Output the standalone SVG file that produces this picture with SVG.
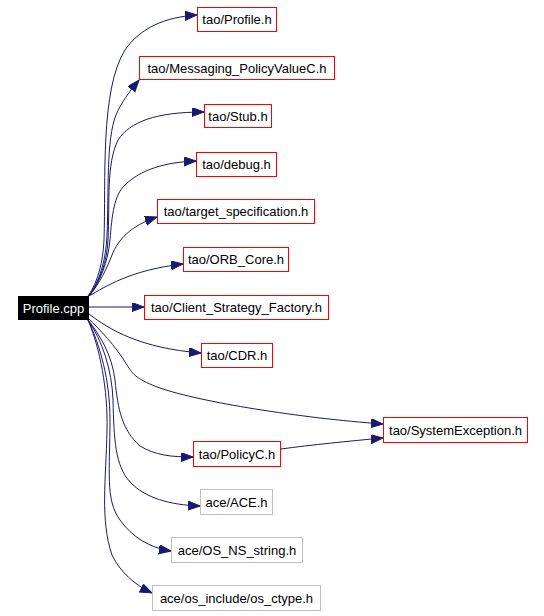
<svg xmlns="http://www.w3.org/2000/svg" width="544" height="616" viewBox="0 0 544 616">
<style>
.n rect{fill:#fff;stroke:#ff0000;stroke-width:1}
.n.g rect{stroke:#bfbfbf}
.n.s rect{fill:#000;stroke:#000}
text{font-family:"Liberation Sans",Arial,sans-serif;font-size:13px;fill:#000;text-anchor:middle}
.n.s text{fill:#fff}
#edges path{fill:none;stroke:#191970;stroke-width:1;marker-end:url(#ah)}
</style>
<defs>
<marker id="ah" markerUnits="userSpaceOnUse" markerWidth="13" markerHeight="10" refX="12" refY="4.5" orient="auto" viewBox="0 0 13 10">
<path d="M0,0 L12,4.5 L0,9 z" fill="#191970" stroke="#191970"/>
</marker>
</defs>
<rect width="544" height="616" fill="#fff"/>
<g id="edges">
<path d="M88,296 C98,282 103,262 104,240 C106,180 100,90 125,50 C140,28 165,17 197,15"/>
<path d="M89,296 C100,280 106,260 107,235 C109,190 106,140 116,115 C121,103 129,92 139,80"/>
<path d="M89,296 C100,281 107,262 108,240 C110,200 106,165 118,140 C130,122 155,112 204,112"/>
<path d="M89,296 C100,282 108,262 110,240 C112,215 114,195 125,185 C140,170 165,162 196,161"/>
<path d="M89,296 C100,283 107,268 112,255 C118,240 130,226 157,217"/>
<path d="M89,296 C105,287 130,270 183,264"/>
<path d="M89,307 L144,307"/>
<path d="M89,314 C110,330 140,348 201,353"/>
<path d="M88,318 C100,330 115,345 127,365 C133,375 138,380 160,388 C200,402 300,418 383,424"/>
<path d="M88,320 C100,335 112,355 115,380 C118,410 122,430 140,446 C155,455 170,457 193,457"/>
<path d="M281,449 C310,445 350,441 383,438"/>
<path d="M88,320 C102,340 112,370 113,400 C114,440 115,465 130,482 C145,498 170,505 200,506"/>
<path d="M88,320 C100,345 110,380 110,420 C110,470 105,500 120,520 C132,537 150,548 171,551"/>
<path d="M88,320 C100,348 108,390 107,430 C106,480 100,520 112,555 C120,572 135,585 152,593"/>
</g>
<g id="n_profile_cpp" class="n s"><rect x="18.5" y="296.5" width="70" height="23"/><text x="53.5" y="312.5">Profile.cpp</text></g>
<g id="n_profile_h" class="n"><rect x="197.5" y="7.5" width="79" height="24"/><text x="237" y="24">tao/Profile.h</text></g>
<g id="n_messaging" class="n"><rect x="139.5" y="56.5" width="195" height="23"/><text x="237" y="72.5">tao/Messaging_PolicyValueC.h</text></g>
<g id="n_stub" class="n"><rect x="204.5" y="104.5" width="67" height="23"/><text x="238" y="120.5">tao/Stub.h</text></g>
<g id="n_debug" class="n"><rect x="196.5" y="152.5" width="80" height="24"/><text x="236.5" y="169">tao/debug.h</text></g>
<g id="n_target" class="n"><rect x="157.5" y="199.5" width="157" height="24"/><text x="236" y="216">tao/target_specification.h</text></g>
<g id="n_orb" class="n"><rect x="183.5" y="247.5" width="105" height="24"/><text x="236" y="264">tao/ORB_Core.h</text></g>
<g id="n_client" class="n"><rect x="144.5" y="295.5" width="184" height="24"/><text x="236.5" y="312">tao/Client_Strategy_Factory.h</text></g>
<g id="n_cdr" class="n"><rect x="201.5" y="343.5" width="71" height="24"/><text x="237" y="360">tao/CDR.h</text></g>
<g id="n_sysexc" class="n"><rect x="383.5" y="417.5" width="144" height="25"/><text x="455.5" y="434.5">tao/SystemException.h</text></g>
<g id="n_policyc" class="n"><rect x="193.5" y="441.5" width="87" height="25"/><text x="237" y="458.5">tao/PolicyC.h</text></g>
<g id="n_ace" class="n g"><rect x="200.5" y="489.5" width="72" height="25"/><text x="236.5" y="506.5">ace/ACE.h</text></g>
<g id="n_osns" class="n g"><rect x="171.5" y="537.5" width="131" height="25"/><text x="237" y="554.5">ace/OS_NS_string.h</text></g>
<g id="n_ctype" class="n g"><rect x="152.5" y="585.5" width="168" height="25"/><text x="236.5" y="602.5">ace/os_include/os_ctype.h</text></g>
</svg>
